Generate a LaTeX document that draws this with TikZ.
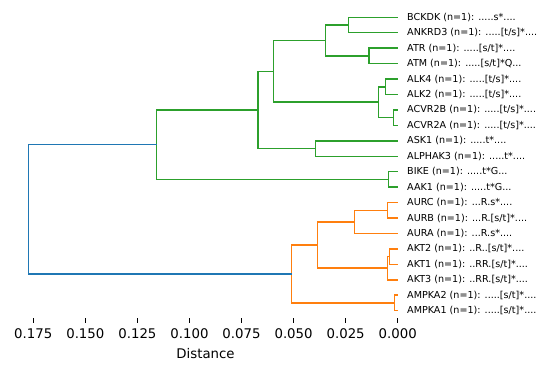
\documentclass[tikz,border=0pt]{standalone}
\usepackage{fontspec}
\setmainfont{DejaVu Sans}
\definecolor{mblue}{HTML}{1F77B4}
\definecolor{morange}{HTML}{FF7F0E}
\definecolor{mgreen}{HTML}{2CA02C}
\newcommand\dlink[3]{\draw (#1) -- (#1 -| #3) -- (#2 -| #3) -- (#2);}
\begin{document}
\begin{tikzpicture}[x=1pt,y=-1pt,
  leaf/.style={anchor=west,inner sep=0pt,font=\fontsize{9.6}{11}\selectfont},
  ticklab/.style={inner sep=0pt,font=\fontsize{13.3}{15}\selectfont},
  tree/.style={line width=1.5pt,line join=miter},
  tickmark/.style={line width=0.8pt,black}]
\useasboundingbox (0,0) rectangle (547,371);
% leaves
\foreach \i/\y in {1/17.30,2/32.74,3/48.18,4/63.62,5/79.06,6/94.50,7/109.94,8/125.38,9/140.82,10/156.26,11/171.70,12/187.14,13/202.58,14/218.02,15/233.46,16/248.90,17/264.34,18/279.78,19/295.22,20/310.66}
  \coordinate (L\i) at (397.7,\y);
\node[leaf] (t1) at (407,17.30) {BCKDK (n=1): .....s*....};
\node[leaf] (t2) at (407,32.74) {ANKRD3 (n=1): .....[t/s]*....};
\node[leaf] (t3) at (407,48.18) {ATR (n=1): .....[s/t]*....};
\node[leaf] (t4) at (407,63.62) {ATM (n=1): .....[s/t]*Q...};
\node[leaf] (t5) at (407,79.06) {ALK4 (n=1): .....[t/s]*....};
\node[leaf] (t6) at (407,94.50) {ALK2 (n=1): .....[t/s]*....};
\node[leaf] (t7) at (407,109.94) {ACVR2B (n=1): .....[t/s]*....};
\node[leaf] (t8) at (407,125.38) {ACVR2A (n=1): .....[t/s]*....};
\node[leaf] (t9) at (407,140.82) {ASK1 (n=1): .....t*....};
\node[leaf] (t10) at (407,156.26) {ALPHAK3 (n=1): .....t*....};
\node[leaf] (t11) at (407,171.70) {BIKE (n=1): .....t*G...};
\node[leaf] (t12) at (407,187.14) {AAK1 (n=1): .....t*G...};
\node[leaf] (t13) at (407,202.58) {AURC (n=1): ...R.s*....};
\node[leaf] (t14) at (407,218.02) {AURB (n=1): ...R.[s/t]*....};
\node[leaf] (t15) at (407,233.46) {AURA (n=1): ...R.s*....};
\node[leaf] (t16) at (407,248.90) {AKT2 (n=1): ..R..[s/t]*....};
\node[leaf] (t17) at (407,264.34) {AKT1 (n=1): ..RR.[s/t]*....};
\node[leaf] (t18) at (407,279.78) {AKT3 (n=1): ..RR.[s/t]*....};
\node[leaf] (t19) at (407,295.22) {AMPKA2 (n=1): .....[s/t]*....};
\node[leaf] (t20) at (407,310.66) {AMPKA1 (n=1): .....[s/t]*....};
% merge points
\coordinate (m1) at (348.3,25.02);
\coordinate (m2) at (369.0,55.90);
\coordinate (m3) at (325.7,40.46);
\coordinate (m4) at (385.3,86.78);
\coordinate (m5) at (393.7,117.66);
\coordinate (m6) at (378.7,102.22);
\coordinate (m7) at (273.3,71.34);
\coordinate (m8) at (315.3,148.54);
\coordinate (m9) at (258.0,109.94);
\coordinate (m10) at (388.3,179.42);
\coordinate (m11) at (156.7,144.68);
\coordinate (m12) at (387.7,210.30);
\coordinate (m13) at (354.7,221.88);
\coordinate (m14) at (389.5,256.62);
\coordinate (m15) at (387.5,268.20);
\coordinate (m16) at (317.7,245.04);
\coordinate (m17) at (394.7,302.94);
\coordinate (m18) at (291.7,273.99);
\coordinate (root) at (28.3,209.3);
\begin{scope}[tree,mgreen]
\dlink{L1}{L2}{m1}
\dlink{L3}{L4}{m2}
\dlink{m1}{m2}{m3}
\dlink{L5}{L6}{m4}
\dlink{L7}{L8}{m5}
\dlink{m4}{m5}{m6}
\dlink{m3}{m6}{m7}
\dlink{L9}{L10}{m8}
\dlink{m7}{m8}{m9}
\dlink{L11}{L12}{m10}
\dlink{m9}{m10}{m11}
\end{scope}
\begin{scope}[tree,morange]
\dlink{L13}{L14}{m12}
\dlink{m12}{L15}{m13}
\dlink{L16}{L17}{m14}
\dlink{m14}{L18}{m15}
\dlink{m13}{m15}{m16}
\dlink{L19}{L20}{m17}
\dlink{m16}{m17}{m18}
\end{scope}
\begin{scope}[tree,mblue]
\dlink{m11}{m18}{root}
\end{scope}
% axis ticks
\foreach \k/\lab in {0/0.000,1/0.025,2/0.050,3/0.075,4/0.100,5/0.125,6/0.150,7/0.175}{
  \coordinate (tk\k) at ({397.7-52.06*\k},318.5);
  \draw[tickmark] (tk\k) -- ++(0,4.8);
  \node[ticklab] (tl\k) at ({397.7-52.06*\k},334) {\lab};
}
\node[ticklab] (xlab) at (205.5,353.5) {Distance};
\end{tikzpicture}
\end{document}
